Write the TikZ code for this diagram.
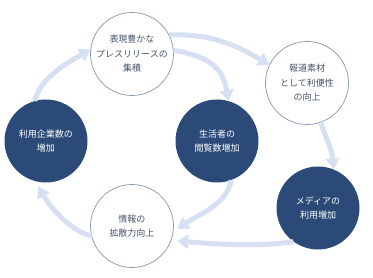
\documentclass[tikz,border=0pt]{standalone}
\usepackage{fontspec}
\newfontfamily\jp{Noto Sans CJK JP}
\usetikzlibrary{arrows.meta}
\definecolor{navy}{RGB}{43,74,120}
\definecolor{flowc}{RGB}{214,224,242}
\definecolor{rimc}{RGB}{132,151,176}
\definecolor{txtc}{RGB}{68,84,106}
\begin{document}
\begin{tikzpicture}[x=1pt,y=1pt,
  bub/.style={circle, minimum size=83pt, inner sep=0pt, align=center,
    font=\jp\fontsize{9}{14.5}\selectfont},
  lite/.style={bub, draw=rimc, line width=0.7pt, fill=white, text=txtc},
  dark/.style={bub, fill=navy, text=white},
  flowarrow/.style={draw=flowc, line width=5pt, -{Triangle[width=14pt,length=11pt]}}]
\useasboundingbox (0,0) rectangle (373,278);

\node[lite] (A) at (132,224) {表現豊かな\\プレスリリースの\\集積};
\node[lite] (B) at (307,195) {報道素材\\として利便性\\の向上};
\node[dark] (C) at (318,70) {メディアの\\利用増加};
\node[dark] (D) at (217,137) {生活者の\\閲覧数増加};
\node[lite] (E) at (132,52) {情報の\\拡散力向上};
\node[dark] (F) at (46,137) {利用企業数の\\増加};

\draw[flowarrow] (A.27) .. controls +(3:45) and +(150:30) .. (B.154);
\draw[flowarrow] (A.5) .. controls +(-10:35) and +(100:35) .. (D.74);
\draw[flowarrow] (B.289) .. controls +(-70:20) and +(95:20) .. (C.68);
\draw[flowarrow, shorten >=6pt] (C.234) .. controls +(188:40) and +(-5:40) .. (E.-20);
\draw[flowarrow, shorten >=5pt] (D.290) .. controls +(-100:25) and +(35:30) .. (E.-8);
\draw[flowarrow, shorten >=6pt] (E.194) .. controls +(165:25) and +(-60:25) .. (F.255);
\draw[flowarrow] (F.106) .. controls +(75:25) and +(210:25) .. (A.174);
\end{tikzpicture}
\end{document}
